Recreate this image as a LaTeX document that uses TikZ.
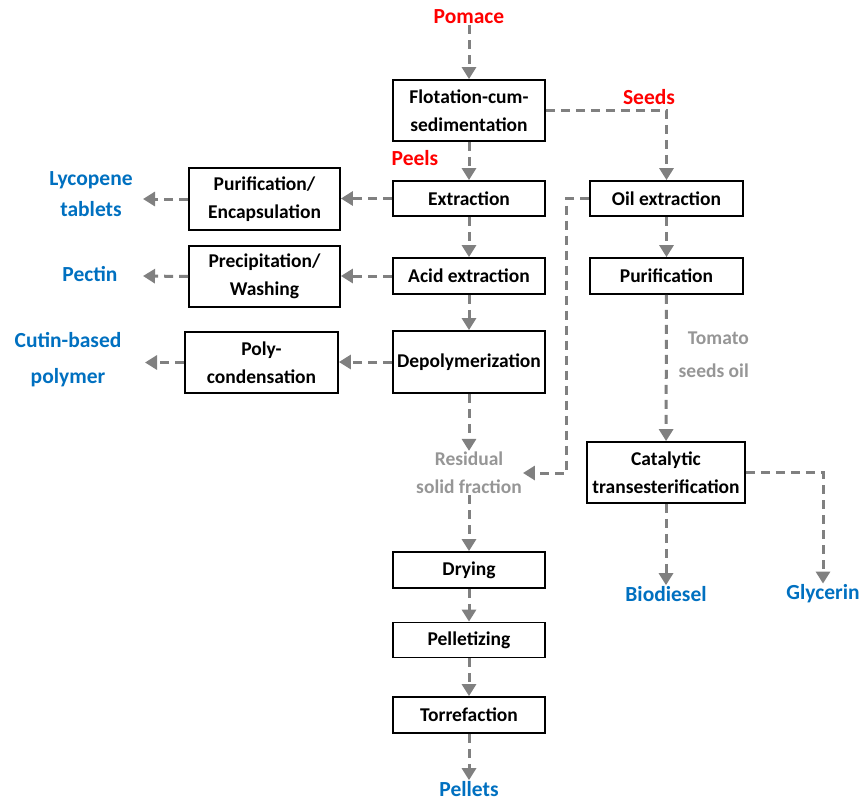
\documentclass[tikz,border=0pt]{standalone}
\usepackage{fontspec}
\setmainfont{Carlito}
\usetikzlibrary{arrows.meta}
\definecolor{flowgray}{RGB}{128,128,128}
\definecolor{labelgray}{RGB}{150,150,150}
\definecolor{prodblue}{RGB}{0,112,192}
\definecolor{feedred}{RGB}{255,0,0}
\begin{document}
\begin{tikzpicture}[x=1pt,y=-1pt,
  txt/.style={font=\bfseries\fontsize{19.5}{28}\selectfont, align=center, inner sep=1pt},
  box/.style={txt, draw=black, line width=1.8pt, fill=white, inner sep=0pt},
  feed/.style={txt, font=\bfseries\fontsize{21.5}{31}\selectfont, text=feedred},
  prod/.style={txt, font=\bfseries\fontsize{21.5}{31}\selectfont, text=prodblue},
  side/.style={txt, text=labelgray},
  flow/.style={draw=flowgray, line width=3pt, dash pattern=on 9pt off 6pt,
    -{Triangle[width=14pt,length=12pt]}}]
\useasboundingbox (0,0) rectangle (867,803);

% main column
\node[box, minimum width=152pt, minimum height=61pt] (flot) at (469,110.5) {Flotation-cum-\\sedimentation};
\node[box, minimum width=152pt, minimum height=35pt] (extr) at (469,198.5) {Extraction};
\node[box, minimum width=152pt, minimum height=36pt] (acid) at (469,276) {Acid extraction};
\node[box, minimum width=152pt, minimum height=62pt] (depo) at (469,362) {Depolymerization};
\node[box, minimum width=152pt, minimum height=36pt] (dry)  at (469,570) {Drying};
\node[box, minimum width=152pt, minimum height=35pt] (pell) at (469,640) {Pelletizing};
\node[box, minimum width=152pt, minimum height=36pt] (torr) at (469,715) {Torrefaction};

% side treatments
\node[box, minimum width=151pt, minimum height=62pt] (encap) at (264.5,199) {Purification/\\Encapsulation};
\node[box, minimum width=151pt, minimum height=61pt] (prec)  at (264.5,276.5) {Precipitation/\\Washing};
\node[box, minimum width=153pt, minimum height=61pt] (poly)  at (261.5,362.5) {Poly-\\condensation};

% seed branch
\node[box, minimum width=153pt, minimum height=35pt] (oil)  at (666.5,198.5) {Oil extraction};
\node[box, minimum width=153pt, minimum height=36pt] (puri) at (666.5,276) {Purification};
\node[box, minimum width=158pt, minimum height=61pt] (cat)  at (666,472.5) {Catalytic\\transesterification};

% labels
\node[feed] (pomace) at (469,17) {Pomace};
\node[feed] (seeds)  at (649,97) {Seeds};
\node[feed] (peels)  at (415,158) {Peels};
\node[prod] (lyco)   at (91,194) {Lycopene\\tablets};
\node[prod] (pectin) at (90,274) {Pectin};
\node[prod, font=\bfseries\fontsize{21.5}{36}\selectfont] (cutin) at (68,360) {Cutin-based\\polymer};
\node[side] (resid)  at (469,473) {Residual\\solid fraction};
\node[side, font=\bfseries\fontsize{19.5}{33}\selectfont, align=right, anchor=east] (oilname) at (750,354.5) {Tomato\\seeds oil};
\node[prod] (bio)    at (666,594) {Biodiesel};
\node[prod] (glyc)   at (823,594) {Glycerin};
\node[prod] (pellets) at (469,789) {Pellets};

% arrow ends in front of the side products
\coordinate (lycoin)  at (143,199);
\coordinate (pectin-in) at (143,276);
\coordinate (cutinin) at (145,362.5);

% flows
\draw[flow] (pomace) -- (flot);
\draw[flow] (flot) -- (extr);
\draw[flow] (flot.east) -| (oil.north);
\draw[flow] (extr) -- (acid);
\draw[flow] (acid) -- (depo);
\draw[flow] (depo) -- (resid);
\draw[flow] (extr.west) -- (extr.west -| encap.east);
\draw[flow] (acid.west) -- (acid.west -| prec.east);
\draw[flow] (depo.west) -- (depo.west -| poly.east);
\draw[flow] (encap.west) -- (lycoin);
\draw[flow] (prec.west) -- (pectin-in);
\draw[flow] (poly.west) -- (cutinin);
\draw[flow] (oil.west) -- ++(-23,0) |- (resid.east);
\draw[flow] (oil) -- (puri);
\draw[flow] (puri) -- (cat);
\draw[flow] (cat) -- (bio);
\draw[flow] (cat.east) -| (glyc.north);
\draw[flow] (resid) -- (dry);
\draw[flow] (dry) -- (pell);
\draw[flow] (pell) -- (torr);
\draw[flow] (torr) -- (pellets);
\end{tikzpicture}
\end{document}
